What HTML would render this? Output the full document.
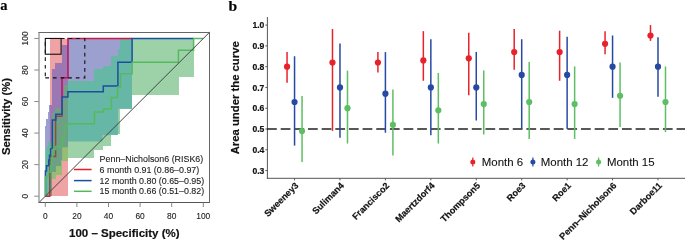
<!DOCTYPE html>
<html><head><meta charset="utf-8"><style>
html,body{margin:0;padding:0;background:#fff;}
body{width:685px;height:240px;overflow:hidden;}
svg{display:block;font-family:"Liberation Sans",sans-serif;}
text{-webkit-font-smoothing:antialiased;stroke:#1a1a1a;stroke-width:0.1px;}
text[font-weight=bold],g[font-weight=bold] text{stroke-width:0.2px;}
.tb{stroke-width:0.25px;}
svg{will-change:transform;}
</style></head><body>
<svg width="685" height="240" viewBox="0 0 685 240">
<rect width="685" height="240" fill="#fff"/>
<defs>
<clipPath id="cr"><path d="M68,38.5 L68,196.2 L49.8,196.2 L49.8,38.5 Z"/></clipPath>
<clipPath id="cb"><path d="M132,38.5 L132,45 L132,62.75 L132,69.4 L132,105.4 L132,108.75 L118.3,108.75 L118.3,111.75 L118.3,118.8 L118.3,126 L118.3,133.75 L117.5,133.75 L117.5,135.2 L102.5,135.2 L102.5,141.5 L68,141.5 L68,147.3 L62.1,147.3 L62.1,160 L61,160 L61,166 L56,166 L56,172 L52,172 L52,196.2 L45.4,196.2 L45.4,172 L45.4,166 L45.4,160 L45.4,147.3 L45.4,141.5 L45.4,135.2 L45.4,133.75 L45.4,126 L46.25,126 L46.25,118.8 L48.3,118.8 L48.3,111.75 L49.2,111.75 L49.2,108.75 L49.2,105.4 L52.4,105.4 L52.4,69.4 L55.4,69.4 L55.4,62.75 L62.1,62.75 L62.1,45 L68,45 L68,38.5 Z"/></clipPath>
<clipPath id="cpl"><rect x="39" y="32.2" width="170.6" height="170.3"/></clipPath>
</defs>
<g shape-rendering="crispEdges">
<path d="M68,38.5 L68,196.2 L49.8,196.2 L49.8,38.5 Z" fill="#F0A3A4"/>
<path d="M132,38.5 L132,45 L132,62.75 L132,69.4 L132,105.4 L132,108.75 L118.3,108.75 L118.3,111.75 L118.3,118.8 L118.3,126 L118.3,133.75 L117.5,133.75 L117.5,135.2 L102.5,135.2 L102.5,141.5 L68,141.5 L68,147.3 L62.1,147.3 L62.1,160 L61,160 L61,166 L56,166 L56,172 L52,172 L52,196.2 L45.4,196.2 L45.4,172 L45.4,166 L45.4,160 L45.4,147.3 L45.4,141.5 L45.4,135.2 L45.4,133.75 L45.4,126 L46.25,126 L46.25,118.8 L48.3,118.8 L48.3,111.75 L49.2,111.75 L49.2,108.75 L49.2,105.4 L52.4,105.4 L52.4,69.4 L55.4,69.4 L55.4,62.75 L62.1,62.75 L62.1,45 L68,45 L68,38.5 Z" fill="#9BA0CE"/>
<path d="M194,38.5 L194,49 L194,56 L194,66.3 L194,69.4 L194,76.8 L179,76.8 L179,81.2 L179,84.9 L179,94.6 L132,94.6 L132,97.1 L132,108 L132,108.75 L120,108.75 L120,113 L120,133.75 L117.5,133.75 L117.5,135.2 L111.2,135.2 L111.2,141.5 L111.2,146 L103.4,146 L103.4,147.3 L103.4,149.6 L94.3,149.6 L94.3,157.9 L68,157.9 L68,160.8 L62.3,160.8 L62.3,172.5 L62,172.5 L62,175 L56,175 L56,178.5 L52,178.5 L52,196.2 L45.4,196.2 L45.4,178.5 L45.4,175 L45.4,172.5 L45.4,160.8 L45.4,157.9 L45.4,149.6 L45.4,147.3 L47.5,147.3 L47.5,146 L47.5,141.5 L52,141.5 L52,135.2 L52,133.75 L52,113 L55.4,113 L55.4,108.75 L55.4,108 L62.8,108 L62.8,97.1 L64.2,97.1 L64.2,94.6 L64.2,84.9 L68,84.9 L68,81.2 L93.9,81.2 L93.9,76.8 L93.9,69.4 L103,69.4 L103,66.3 L110.8,66.3 L110.8,56 L118,56 L118,49 L120,49 L120,38.5 Z" fill="#9DD2A8"/>
<path d="M132,38.5 L132,45 L132,62.75 L132,69.4 L132,105.4 L132,108.75 L118.3,108.75 L118.3,111.75 L118.3,118.8 L118.3,126 L118.3,133.75 L117.5,133.75 L117.5,135.2 L102.5,135.2 L102.5,141.5 L68,141.5 L68,147.3 L62.1,147.3 L62.1,160 L61,160 L61,166 L56,166 L56,172 L52,172 L52,196.2 L45.4,196.2 L45.4,172 L45.4,166 L45.4,160 L45.4,147.3 L45.4,141.5 L45.4,135.2 L45.4,133.75 L45.4,126 L46.25,126 L46.25,118.8 L48.3,118.8 L48.3,111.75 L49.2,111.75 L49.2,108.75 L49.2,105.4 L52.4,105.4 L52.4,69.4 L55.4,69.4 L55.4,62.75 L62.1,62.75 L62.1,45 L68,45 L68,38.5 Z" fill="#9B78B4" clip-path="url(#cr)"/>
<path d="M194,38.5 L194,49 L194,56 L194,66.3 L194,69.4 L194,76.8 L179,76.8 L179,81.2 L179,84.9 L179,94.6 L132,94.6 L132,97.1 L132,108 L132,108.75 L120,108.75 L120,113 L120,133.75 L117.5,133.75 L117.5,135.2 L111.2,135.2 L111.2,141.5 L111.2,146 L103.4,146 L103.4,147.3 L103.4,149.6 L94.3,149.6 L94.3,157.9 L68,157.9 L68,160.8 L62.3,160.8 L62.3,172.5 L62,172.5 L62,175 L56,175 L56,178.5 L52,178.5 L52,196.2 L45.4,196.2 L45.4,178.5 L45.4,175 L45.4,172.5 L45.4,160.8 L45.4,157.9 L45.4,149.6 L45.4,147.3 L47.5,147.3 L47.5,146 L47.5,141.5 L52,141.5 L52,135.2 L52,133.75 L52,113 L55.4,113 L55.4,108.75 L55.4,108 L62.8,108 L62.8,97.1 L64.2,97.1 L64.2,94.6 L64.2,84.9 L68,84.9 L68,81.2 L93.9,81.2 L93.9,76.8 L93.9,69.4 L103,69.4 L103,66.3 L110.8,66.3 L110.8,56 L118,56 L118,49 L120,49 L120,38.5 Z" fill="#66B7A5" clip-path="url(#cb)"/>
<path d="M194,38.5 L194,49 L194,56 L194,66.3 L194,69.4 L194,76.8 L179,76.8 L179,81.2 L179,84.9 L179,94.6 L132,94.6 L132,97.1 L132,108 L132,108.75 L120,108.75 L120,113 L120,133.75 L117.5,133.75 L117.5,135.2 L111.2,135.2 L111.2,141.5 L111.2,146 L103.4,146 L103.4,147.3 L103.4,149.6 L94.3,149.6 L94.3,157.9 L68,157.9 L68,160.8 L62.3,160.8 L62.3,172.5 L62,172.5 L62,175 L56,175 L56,178.5 L52,178.5 L52,196.2 L45.4,196.2 L45.4,178.5 L45.4,175 L45.4,172.5 L45.4,160.8 L45.4,157.9 L45.4,149.6 L45.4,147.3 L47.5,147.3 L47.5,146 L47.5,141.5 L52,141.5 L52,135.2 L52,133.75 L52,113 L55.4,113 L55.4,108.75 L55.4,108 L62.8,108 L62.8,97.1 L64.2,97.1 L64.2,94.6 L64.2,84.9 L68,84.9 L68,81.2 L93.9,81.2 L93.9,76.8 L93.9,69.4 L103,69.4 L103,66.3 L110.8,66.3 L110.8,56 L118,56 L118,49 L120,49 L120,38.5 Z" fill="#96BE73" clip-path="url(#cr)"/>
<g clip-path="url(#cb)"><path d="M194,38.5 L194,49 L194,56 L194,66.3 L194,69.4 L194,76.8 L179,76.8 L179,81.2 L179,84.9 L179,94.6 L132,94.6 L132,97.1 L132,108 L132,108.75 L120,108.75 L120,113 L120,133.75 L117.5,133.75 L117.5,135.2 L111.2,135.2 L111.2,141.5 L111.2,146 L103.4,146 L103.4,147.3 L103.4,149.6 L94.3,149.6 L94.3,157.9 L68,157.9 L68,160.8 L62.3,160.8 L62.3,172.5 L62,172.5 L62,175 L56,175 L56,178.5 L52,178.5 L52,196.2 L45.4,196.2 L45.4,178.5 L45.4,175 L45.4,172.5 L45.4,160.8 L45.4,157.9 L45.4,149.6 L45.4,147.3 L47.5,147.3 L47.5,146 L47.5,141.5 L52,141.5 L52,135.2 L52,133.75 L52,113 L55.4,113 L55.4,108.75 L55.4,108 L62.8,108 L62.8,97.1 L64.2,97.1 L64.2,94.6 L64.2,84.9 L68,84.9 L68,81.2 L93.9,81.2 L93.9,76.8 L93.9,69.4 L103,69.4 L103,66.3 L110.8,66.3 L110.8,56 L118,56 L118,49 L120,49 L120,38.5 Z" fill="#6EA087" clip-path="url(#cr)"/></g>
</g>
<g fill="none" stroke-width="1.5" stroke-linejoin="miter" stroke-linecap="butt">
<path d="M45.3,196.2 L49.8,196.2 L49.8,190" stroke="#E41E26"/>
<path d="M49.8,190 L49.8,156.5 L55.6,156.5 L55.6,116.3 L62,116.3 L62,97.1" stroke="#8E4E3E"/>
<path d="M62,97.1 L62,77.7 L68,77.7 L68,38.5" stroke="#BC1258"/>
<path d="M67.25,38.5 L132.1,38.5" stroke="#CE1546"/>
<path d="M45.4,196.2 L45.4,171 L46.5,171 L46.5,165.75 L48.75,165.75 L48.75,160 L49.5,160 L49.5,155.25 L50.6,155.25 L50.6,149 L52.3,149 L52.3,120.1 L55.8,120.1 L55.8,114.25 L62,114.25 L62,97.1 L67.9,97.1 L67.9,91.7 L103.3,91.7 L103.3,85.9 L117.9,85.9 L117.9,62.2 L132.1,62.2 L132.1,38.5 L193.6,38.5" stroke="#1B4EA0"/>
<path d="M45.5,196.2 L45.5,176.5 L48.5,176.5 L48.5,172 L50.5,172 L50.5,166 L51.5,166 L51.5,158 L52.5,158 L52.5,149.4 L55.8,149.4 L55.8,146.5 L62.1,146.5 L62.1,138.5 L64.2,138.5 L64.2,126 L67.5,126 L67.5,123.8 L94.4,123.8 L94.4,111.9 L103.4,111.9 L103.4,108.9 L111.4,108.9 L111.4,97.6 L117.5,97.6 L117.5,87 L120.4,87 L120.4,73.7 L132.1,73.7 L132.1,62.2 L178.4,62.2 L178.4,50.3 L193.6,50.3 L193.6,38.5 L203.3,38.5" stroke="#55BA5E"/>
</g>
<line x1="39" y1="202.5" x2="209.6" y2="32.2" stroke="#444" stroke-width="1"/>
<rect x="45.3" y="38.45" width="15.8" height="15.78" fill="none" stroke="#111" stroke-width="1.1"/>
<path d="M45.3,77.89 H84.8 V38.45 H45.3 Z" fill="none" stroke="#111" stroke-width="1.1" stroke-dasharray="3.7 3.925"/>
<line x1="38.5" y1="32.5" x2="210" y2="32.5" stroke="#666" stroke-width="1"/>
<line x1="38.5" y1="202.5" x2="210" y2="202.5" stroke="#555" stroke-width="1"/>
<line x1="39" y1="32" x2="39" y2="203" stroke="#777" stroke-width="1"/>
<line x1="209.5" y1="32" x2="209.5" y2="203" stroke="#666" stroke-width="1"/>
<g stroke="#888" stroke-width="1"><line x1="45.3" y1="202.5" x2="45.3" y2="207" /><line x1="34.3" y1="196.2" x2="38.9" y2="196.2" /><line x1="76.9" y1="202.5" x2="76.9" y2="207" /><line x1="34.3" y1="164.65" x2="38.9" y2="164.65" /><line x1="108.5" y1="202.5" x2="108.5" y2="207" /><line x1="34.3" y1="133.1" x2="38.9" y2="133.1" /><line x1="140.1" y1="202.5" x2="140.1" y2="207" /><line x1="34.3" y1="101.55" x2="38.9" y2="101.55" /><line x1="171.7" y1="202.5" x2="171.7" y2="207" /><line x1="34.3" y1="70" x2="38.9" y2="70" /><line x1="203.3" y1="202.5" x2="203.3" y2="207" /><line x1="34.3" y1="38.45" x2="38.9" y2="38.45" /></g>
<g font-size="8.4" fill="#222"><text x="45.3" y="218.9" text-anchor="middle">0</text><text transform="translate(28,196.2) rotate(-90)" text-anchor="middle">0</text><text x="76.9" y="218.9" text-anchor="middle">20</text><text transform="translate(28,164.65) rotate(-90)" text-anchor="middle">20</text><text x="108.5" y="218.9" text-anchor="middle">40</text><text transform="translate(28,133.1) rotate(-90)" text-anchor="middle">40</text><text x="140.1" y="218.9" text-anchor="middle">60</text><text transform="translate(28,101.55) rotate(-90)" text-anchor="middle">60</text><text x="171.7" y="218.9" text-anchor="middle">80</text><text transform="translate(28,70) rotate(-90)" text-anchor="middle">80</text><text x="203.3" y="218.9" text-anchor="middle">100</text><text transform="translate(28,38.45) rotate(-90)" text-anchor="middle">100</text></g>
<text x="124.3" y="237" text-anchor="middle" font-size="11.5" font-weight="bold" fill="#111">100 – Specificity (%)</text>
<text transform="translate(9.8,116.5) rotate(-90)" text-anchor="middle" font-size="11.3" font-weight="bold" fill="#111">Sensitivity (%)</text>
<line x1="74" y1="169.5" x2="91.6" y2="169.5" stroke="#E41E26" stroke-width="1.5"/>
<line x1="74" y1="180.6" x2="91.6" y2="180.6" stroke="#1B4EA0" stroke-width="1.5"/>
<line x1="74" y1="191.3" x2="91.6" y2="191.3" stroke="#55BA5E" stroke-width="1.5"/>
<g font-size="8.9" fill="#222">
<text x="99.6" y="161.6">Penn–Nicholson6 (RISK6)</text>
<text x="99.6" y="172.6">6 month 0.91 (0.86–0.97)</text>
<text x="99.6" y="183.5">12 month 0.80 (0.65–0.95)</text>
<text x="99.6" y="194.4">15 month 0.66 (0.51–0.82)</text>
</g>
<text x="0.3" y="10" font-family="Liberation Serif, serif" font-weight="bold" font-size="14.5">a</text>
<line x1="267.4" y1="17" x2="267.4" y2="178.8" stroke="#555" stroke-width="1"/>
<line x1="266.9" y1="178.3" x2="685" y2="178.3" stroke="#555" stroke-width="1"/>
<g stroke="#555" stroke-width="1"><line x1="265.4" y1="170.56" x2="267.4" y2="170.56"/><line x1="265.4" y1="149.78" x2="267.4" y2="149.78"/><line x1="265.4" y1="129" x2="267.4" y2="129"/><line x1="265.4" y1="108.22" x2="267.4" y2="108.22"/><line x1="265.4" y1="87.44" x2="267.4" y2="87.44"/><line x1="265.4" y1="66.66" x2="267.4" y2="66.66"/><line x1="265.4" y1="45.88" x2="267.4" y2="45.88"/><line x1="265.4" y1="25.1" x2="267.4" y2="25.1"/></g>
<g font-size="8.6" font-weight="bold" fill="#111"><text x="264.4" y="173.66" text-anchor="end">0.3</text><text x="264.4" y="152.88" text-anchor="end">0.4</text><text x="264.4" y="132.1" text-anchor="end">0.5</text><text x="264.4" y="111.32" text-anchor="end">0.6</text><text x="264.4" y="90.54" text-anchor="end">0.7</text><text x="264.4" y="69.76" text-anchor="end">0.8</text><text x="264.4" y="48.98" text-anchor="end">0.9</text><text x="264.4" y="28.2" text-anchor="end">1.0</text></g>
<line x1="267.05" y1="129" x2="685" y2="129" stroke="#222" stroke-width="1.3" stroke-dasharray="9.75 3.9"/>
<line x1="287.05" y1="52.11" x2="287.05" y2="82.66" stroke="#E8222B" stroke-width="1.5"/>
<circle cx="287.05" cy="66.66" r="3.1" fill="#E8222B"/>
<line x1="294.55" y1="56.27" x2="294.55" y2="145.62" stroke="#2649A2" stroke-width="1.5"/>
<circle cx="294.55" cy="101.99" r="3.1" fill="#2649A2"/>
<line x1="302.05" y1="95.96" x2="302.05" y2="162.04" stroke="#5DBE63" stroke-width="1.5"/>
<circle cx="302.05" cy="131.08" r="3.1" fill="#5DBE63"/>
<line x1="332.48" y1="29.05" x2="332.48" y2="130.87" stroke="#E8222B" stroke-width="1.5"/>
<circle cx="332.48" cy="62.5" r="3.1" fill="#E8222B"/>
<line x1="339.98" y1="43.59" x2="339.98" y2="137.73" stroke="#2649A2" stroke-width="1.5"/>
<circle cx="339.98" cy="87.44" r="3.1" fill="#2649A2"/>
<line x1="347.48" y1="70.61" x2="347.48" y2="143.55" stroke="#5DBE63" stroke-width="1.5"/>
<circle cx="347.48" cy="108.22" r="3.1" fill="#5DBE63"/>
<line x1="377.91" y1="52.11" x2="377.91" y2="72.48" stroke="#E8222B" stroke-width="1.5"/>
<circle cx="377.91" cy="62.5" r="3.1" fill="#E8222B"/>
<line x1="385.41" y1="52.11" x2="385.41" y2="132.74" stroke="#2649A2" stroke-width="1.5"/>
<circle cx="385.41" cy="93.67" r="3.1" fill="#2649A2"/>
<line x1="392.91" y1="89.52" x2="392.91" y2="155.39" stroke="#5DBE63" stroke-width="1.5"/>
<circle cx="392.91" cy="124.84" r="3.1" fill="#5DBE63"/>
<line x1="423.34" y1="31.13" x2="423.34" y2="80.79" stroke="#E8222B" stroke-width="1.5"/>
<circle cx="423.34" cy="60.43" r="3.1" fill="#E8222B"/>
<line x1="430.84" y1="39.23" x2="430.84" y2="135.23" stroke="#2649A2" stroke-width="1.5"/>
<circle cx="430.84" cy="87.44" r="3.1" fill="#2649A2"/>
<line x1="438.34" y1="72.89" x2="438.34" y2="143.55" stroke="#5DBE63" stroke-width="1.5"/>
<circle cx="438.34" cy="110.3" r="3.1" fill="#5DBE63"/>
<line x1="468.77" y1="32.79" x2="468.77" y2="95.13" stroke="#E8222B" stroke-width="1.5"/>
<circle cx="468.77" cy="58.35" r="3.1" fill="#E8222B"/>
<line x1="476.27" y1="51.91" x2="476.27" y2="120.48" stroke="#2649A2" stroke-width="1.5"/>
<circle cx="476.27" cy="87.44" r="3.1" fill="#2649A2"/>
<line x1="483.77" y1="70.4" x2="483.77" y2="134.61" stroke="#5DBE63" stroke-width="1.5"/>
<circle cx="483.77" cy="104.06" r="3.1" fill="#5DBE63"/>
<line x1="514.2" y1="29.05" x2="514.2" y2="69.78" stroke="#E8222B" stroke-width="1.5"/>
<circle cx="514.2" cy="52.11" r="3.1" fill="#E8222B"/>
<line x1="521.7" y1="39.23" x2="521.7" y2="128.79" stroke="#2649A2" stroke-width="1.5"/>
<circle cx="521.7" cy="74.97" r="3.1" fill="#2649A2"/>
<line x1="529.2" y1="62.09" x2="529.2" y2="138.97" stroke="#5DBE63" stroke-width="1.5"/>
<circle cx="529.2" cy="101.99" r="3.1" fill="#5DBE63"/>
<line x1="559.63" y1="30.71" x2="559.63" y2="80.79" stroke="#E8222B" stroke-width="1.5"/>
<circle cx="559.63" cy="52.11" r="3.1" fill="#E8222B"/>
<line x1="567.13" y1="36.74" x2="567.13" y2="129" stroke="#2649A2" stroke-width="1.5"/>
<circle cx="567.13" cy="74.97" r="3.1" fill="#2649A2"/>
<line x1="574.63" y1="66.45" x2="574.63" y2="138.97" stroke="#5DBE63" stroke-width="1.5"/>
<circle cx="574.63" cy="104.06" r="3.1" fill="#5DBE63"/>
<line x1="605.06" y1="31.33" x2="605.06" y2="54.19" stroke="#E8222B" stroke-width="1.5"/>
<circle cx="605.06" cy="43.8" r="3.1" fill="#E8222B"/>
<line x1="612.56" y1="35.49" x2="612.56" y2="97.83" stroke="#2649A2" stroke-width="1.5"/>
<circle cx="612.56" cy="66.66" r="3.1" fill="#2649A2"/>
<line x1="620.06" y1="62.5" x2="620.06" y2="126.92" stroke="#5DBE63" stroke-width="1.5"/>
<circle cx="620.06" cy="95.75" r="3.1" fill="#5DBE63"/>
<line x1="650.49" y1="25.1" x2="650.49" y2="40.89" stroke="#E8222B" stroke-width="1.5"/>
<circle cx="650.49" cy="35.49" r="3.1" fill="#E8222B"/>
<line x1="657.99" y1="37.15" x2="657.99" y2="96.79" stroke="#2649A2" stroke-width="1.5"/>
<circle cx="657.99" cy="66.66" r="3.1" fill="#2649A2"/>
<line x1="665.49" y1="66.45" x2="665.49" y2="132.12" stroke="#5DBE63" stroke-width="1.5"/>
<circle cx="665.49" cy="101.99" r="3.1" fill="#5DBE63"/>
<g stroke="#555" stroke-width="1"><line x1="294.55" y1="178.3" x2="294.55" y2="180.3"/><line x1="339.98" y1="178.3" x2="339.98" y2="180.3"/><line x1="385.41" y1="178.3" x2="385.41" y2="180.3"/><line x1="430.84" y1="178.3" x2="430.84" y2="180.3"/><line x1="476.27" y1="178.3" x2="476.27" y2="180.3"/><line x1="521.7" y1="178.3" x2="521.7" y2="180.3"/><line x1="567.13" y1="178.3" x2="567.13" y2="180.3"/><line x1="612.56" y1="178.3" x2="612.56" y2="180.3"/><line x1="657.99" y1="178.3" x2="657.99" y2="180.3"/></g>
<g font-size="9.1" font-weight="bold" fill="#111"><text transform="translate(299.05,186.2) rotate(-45)" text-anchor="end">Sweeney3</text><text transform="translate(344.48,186.2) rotate(-45)" text-anchor="end">Suliman4</text><text transform="translate(389.91,186.2) rotate(-45)" text-anchor="end">Francisco2</text><text transform="translate(435.34,186.2) rotate(-45)" text-anchor="end">Maertzdorf4</text><text transform="translate(480.77,186.2) rotate(-45)" text-anchor="end">Thompson5</text><text transform="translate(526.2,186.2) rotate(-45)" text-anchor="end">Roe3</text><text transform="translate(571.63,186.2) rotate(-45)" text-anchor="end">Roe1</text><text transform="translate(617.06,186.2) rotate(-45)" text-anchor="end">Penn–Nicholson6</text><text transform="translate(662.49,186.2) rotate(-45)" text-anchor="end">Darboe11</text></g>
<text transform="translate(239.3,97.8) rotate(-90)" text-anchor="middle" font-size="11.3" font-weight="bold" fill="#111">Area under the curve</text>
<line x1="472.8" y1="157.5" x2="472.8" y2="166.6" stroke="#E8222B" stroke-width="1.2"/>
<circle cx="472.8" cy="162.1" r="2.5" fill="#E8222B"/>
<text x="481.8" y="165.9" font-size="11.45" fill="#111">Month 6</text>
<line x1="532.9" y1="157.5" x2="532.9" y2="166.6" stroke="#2649A2" stroke-width="1.2"/>
<circle cx="532.9" cy="162.1" r="2.5" fill="#2649A2"/>
<text x="540.8" y="165.9" font-size="11.45" fill="#111">Month 12</text>
<line x1="598.6" y1="157.5" x2="598.6" y2="166.6" stroke="#5DBE63" stroke-width="1.2"/>
<circle cx="598.6" cy="162.1" r="2.5" fill="#5DBE63"/>
<text x="606.9" y="165.9" font-size="11.45" fill="#111">Month 15</text>
<text x="228.6" y="10.6" font-family="Liberation Serif, serif" font-weight="bold" font-size="15.6">b</text>
</svg>
</body></html>
